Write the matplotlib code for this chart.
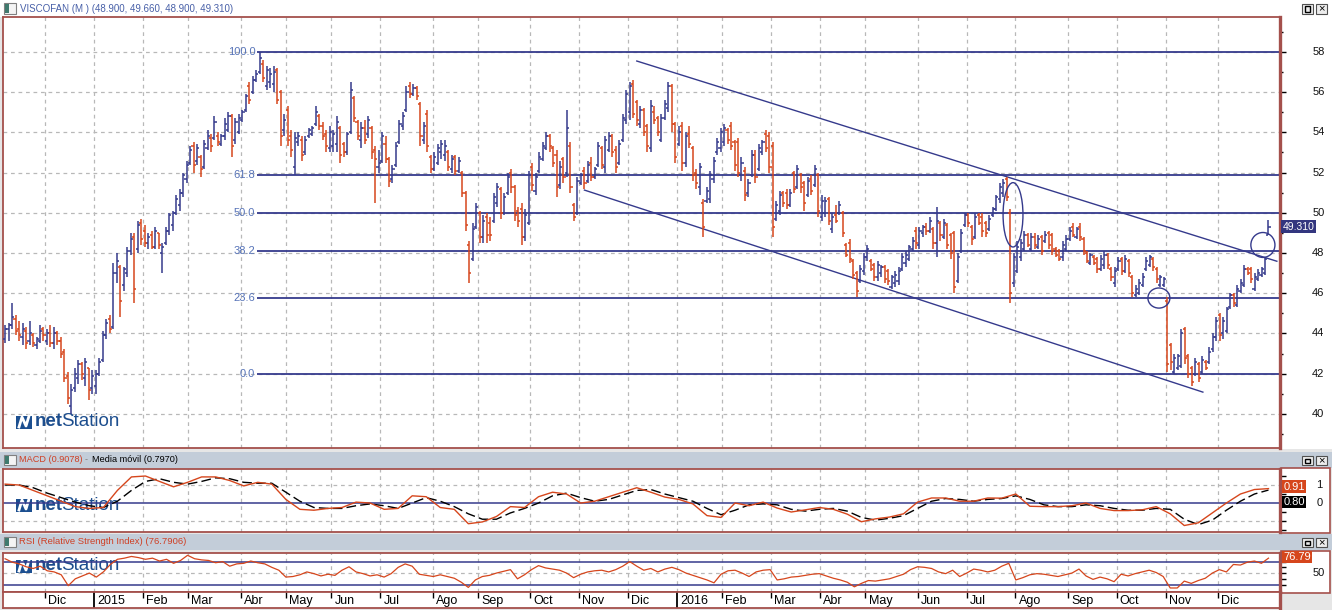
import numpy as np
import matplotlib.pyplot as plt
from matplotlib.patches import Ellipse, Rectangle
from matplotlib.lines import Line2D

plt.rcParams['font.family'] = ['Liberation Sans', 'DejaVu Sans']

# months shown on the date strip and how many bars each one holds
month_labels = [None, 'Dic', '2015', 'Feb', 'Mar', 'Abr', 'May', 'Jun', 'Jul', 'Ago', 'Sep', 'Oct', 'Nov',
                'Dic', '2016', 'Feb', 'Mar', 'Abr', 'May', 'Jun', 'Jul', 'Ago', 'Sep', 'Oct', 'Nov', 'Dic']
month_bars = [12, 14, 14, 13, 15, 13, 13, 14, 15, 13, 15, 14, 14, 14, 13, 14, 14, 13, 15, 14, 14, 15, 14, 14, 15, 15]

# OHLC, one row per month
highs = [
    44.4, 44.5, 45.5, 44.9, 44.6, 44.5, 44.3, 44.6, 44.0, 43.8, 44.4, 44.3,
    44.2, 44.4, 44.3, 44.1, 43.8, 43.2, 42.1, 41.5, 42.3, 42.7, 42.6, 42.8, 42.3, 42.2,
    42.2, 42.8, 44.1, 44.7, 44.9, 47.5, 48.0, 47.4, 47.3, 48.3, 49.0, 49.0, 49.6, 49.7,
    49.4, 49.0, 49.1, 49.3, 49.0, 48.5, 49.3, 50.0, 50.1, 50.9, 51.2, 52.0, 52.6,
    53.3, 53.5, 53.4, 52.9, 53.6, 54.1, 53.9, 54.8, 54.0, 53.9, 54.7, 55.0, 54.9, 54.7, 54.9,
    55.1, 55.9, 56.5, 56.8, 57.1, 58.0, 57.6, 57.3, 57.2, 57.3, 57.2, 56.1, 54.9,
    55.3, 54.1, 54.0, 54.0, 53.8, 53.8, 54.2, 54.3, 55.3, 54.9, 54.5, 54.1, 54.3,
    54.1, 54.8, 54.3, 53.5, 54.0, 56.5, 55.8, 54.6, 54.5, 54.6, 54.8, 54.3, 53.3, 53.1,
    54.0, 53.8, 52.8, 52.4, 53.5, 54.6, 55.0, 56.3, 56.5, 56.4, 56.3, 55.5, 54.5, 55.1, 52.9,
    53.0, 53.4, 53.6, 53.6, 53.1, 52.9, 52.9, 52.8, 52.1, 51.1, 48.6, 49.5, 50.5,
    50.1, 49.9, 50.0, 49.8, 51.0, 51.5, 51.3, 51.0, 52.0, 52.2, 51.4, 50.3, 50.5, 50.2, 52.1,
    52.5, 52.0, 53.0, 53.5, 54.0, 53.9, 53.3, 53.1, 52.6, 52.8, 55.1, 53.5, 50.5, 51.8,
    52.0, 52.3, 52.6, 52.8, 52.3, 53.5, 53.3, 53.8, 54.0, 53.9, 53.3, 53.6, 54.9, 56.1,
    56.5, 56.6, 55.6, 55.3, 55.2, 54.4, 55.6, 55.3, 54.8, 54.9, 55.6, 56.5, 56.4, 54.5,
    54.3, 54.5, 54.0, 54.3, 53.3, 52.2, 52.5, 50.7, 51.3, 52.1, 52.8, 53.7, 54.2,
    54.4, 54.2, 54.5, 53.6, 53.7, 52.8, 52.3, 51.7, 53.1, 53.1, 53.4, 53.6, 54.1, 54.0,
    53.5, 50.6, 51.1, 51.1, 51.2, 51.2, 52.1, 52.4, 52.0, 51.6, 51.8, 51.9, 52.4, 52.0,
    50.9, 50.8, 50.8, 50.0, 50.4, 50.6, 50.1, 48.5, 48.7, 47.7, 47.1, 47.4, 48.0,
    48.4, 47.7, 47.5, 47.6, 47.4, 47.4, 47.2, 46.9, 47.1, 47.3, 48.0, 48.1, 48.4, 48.8, 49.3,
    49.3, 49.4, 49.5, 49.8, 49.3, 50.3, 49.6, 49.7, 49.5, 49.0, 49.1, 48.0, 49.2, 50.0,
    50.0, 49.4, 50.0, 50.0, 50.0, 49.6, 49.9, 50.3, 50.9, 51.5, 51.7, 51.8, 50.2, 48.0,
    48.6, 48.7, 49.1, 49.0, 49.0, 49.0, 48.9, 48.9, 49.1, 49.1, 49.0, 48.3, 48.2, 48.6, 48.9,
    49.3, 49.5, 49.3, 49.5, 48.8, 48.1, 48.0, 47.9, 47.8, 47.9, 48.1, 48.0, 47.3, 47.3,
    47.8, 47.8, 47.9, 47.7, 46.9, 46.4, 46.7, 47.0, 47.8, 47.9, 47.8, 47.3, 46.9, 46.8,
    45.8, 43.5, 43.0, 43.0, 44.2, 44.3, 43.0, 42.4, 42.8, 42.6, 42.9, 42.7, 43.3, 44.0, 44.8,
    45.0, 44.8, 45.3, 46.0, 46.0, 46.4, 46.7, 47.4, 47.3, 47.3, 47.0, 47.2, 47.3, 47.8, 49.66,
]
lows = [
    43.5, 43.6, 44.2, 43.9, 43.6, 43.4, 43.2, 43.4, 43.3, 43.2, 43.5, 43.6,
    43.4, 43.3, 43.2, 43.4, 42.8, 41.6, 40.5, 40.0, 41.1, 41.5, 41.7, 41.4, 40.7, 41.0,
    41.0, 41.9, 42.6, 43.7, 44.0, 44.2, 46.5, 44.8, 46.1, 46.8, 47.9, 45.5, 48.0, 48.4,
    48.3, 48.2, 48.2, 48.2, 48.2, 47.0, 48.4, 48.9, 49.1, 49.9, 50.1, 50.8, 51.5,
    52.4, 52.0, 52.4, 51.8, 52.2, 53.1, 53.0, 53.6, 53.3, 53.3, 53.6, 54.0, 52.8, 53.4, 53.9,
    54.5, 55.0, 55.4, 55.9, 56.5, 56.9, 56.5, 56.1, 56.2, 56.0, 55.4, 53.3, 53.8,
    53.3, 52.8, 51.9, 53.3, 52.6, 52.9, 53.7, 53.8, 54.3, 54.1, 53.6, 53.0, 53.0,
    53.0, 53.0, 52.5, 52.8, 52.9, 53.9, 54.5, 53.6, 53.2, 53.4, 53.7, 52.7, 50.5, 52.0,
    52.5, 52.5, 51.3, 51.5, 52.3, 53.4, 54.1, 55.0, 55.7, 55.8, 55.6, 53.3, 53.4, 53.0, 52.0,
    52.1, 52.4, 52.7, 52.6, 52.1, 52.0, 51.9, 52.0, 50.8, 49.1, 46.5, 47.6, 49.2,
    48.5, 48.5, 48.5, 48.6, 49.5, 50.3, 49.7, 49.9, 50.9, 51.0, 49.6, 49.3, 48.4, 48.6, 49.4,
    51.1, 50.9, 52.0, 52.6, 53.1, 53.0, 52.3, 50.8, 51.2, 51.5, 51.8, 51.0, 49.6, 49.9,
    51.4, 51.2, 51.5, 51.6, 51.7, 52.3, 52.2, 52.0, 53.0, 52.8, 52.0, 52.4, 53.5, 54.4,
    54.6, 54.7, 54.3, 54.2, 53.8, 53.0, 53.0, 54.4, 53.8, 53.5, 54.6, 55.0, 54.0, 52.5,
    53.3, 52.1, 52.3, 53.2, 51.6, 51.2, 50.9, 48.8, 50.5, 50.5, 51.5, 52.9, 53.0,
    53.3, 53.4, 53.1, 52.1, 51.8, 51.6, 50.6, 50.8, 51.8, 51.5, 52.1, 52.9, 53.0, 52.0,
    48.8, 49.6, 49.9, 50.3, 50.2, 50.3, 51.0, 51.2, 51.0, 50.1, 50.8, 50.9, 51.3, 49.8,
    49.6, 49.8, 49.4, 49.0, 49.5, 49.9, 48.8, 47.8, 47.5, 46.7, 45.8, 46.5, 46.9,
    47.6, 47.1, 46.6, 46.6, 46.8, 46.5, 46.4, 46.2, 46.3, 46.4, 47.1, 47.3, 47.6, 48.1, 48.2,
    48.2, 48.8, 48.9, 49.0, 48.2, 47.8, 48.6, 48.7, 48.2, 47.7, 46.0, 46.5, 48.0, 49.3,
    49.3, 48.4, 48.7, 49.4, 48.8, 48.8, 49.1, 49.8, 50.1, 50.5, 50.8, 50.6, 45.5, 46.3,
    47.0, 47.6, 48.1, 48.3, 48.1, 48.2, 48.2, 47.9, 48.5, 48.2, 47.9, 47.8, 47.6, 47.6, 48.1,
    48.6, 48.8, 48.7, 48.6, 47.9, 47.5, 47.4, 47.4, 47.0, 47.1, 47.2, 47.2, 46.6, 46.3,
    47.1, 46.9, 47.0, 46.8, 45.8, 45.8, 45.9, 46.3, 47.1, 47.3, 47.1, 46.5, 46.3, 46.3,
    42.1, 42.2, 42.0, 42.2, 42.3, 42.5, 41.8, 41.4, 41.9, 41.6, 42.0, 42.2, 42.5, 43.1, 43.6,
    43.6, 43.7, 44.0, 45.2, 45.3, 45.3, 46.0, 46.3, 46.9, 46.5, 46.1, 46.6, 46.8, 46.9, 48.9,
]
opens = [
    43.7, 44.2, 44.4, 44.7, 44.2, 43.8, 44.1, 43.6, 43.9, 43.4, 43.6, 44.2,
    43.6, 44.0, 43.5, 44.0, 43.6, 43.1, 41.9, 40.4, 41.3, 41.8, 42.5, 41.8, 42.3, 41.3,
    41.4, 42.0, 42.7, 43.9, 44.7, 44.3, 47.0, 47.3, 46.4, 47.0, 48.1, 48.8, 48.2, 49.5,
    49.1, 48.5, 48.9, 48.3, 49.0, 48.0, 48.5, 49.1, 49.4, 50.0, 50.4, 51.0, 51.7,
    52.5, 53.3, 52.6, 52.8, 52.3, 53.2, 53.7, 53.7, 53.8, 53.4, 53.8, 54.1, 54.8, 53.6, 54.0,
    54.6, 55.1, 56.3, 56.0, 56.6, 57.0, 57.4, 56.3, 56.5, 56.4, 57.1, 56.0, 54.1,
    55.1, 53.8, 52.3, 53.5, 53.6, 53.0, 53.8, 53.9, 54.4, 54.8, 54.3, 53.9, 53.2,
    53.3, 53.4, 54.2, 53.4, 53.0, 54.0, 55.7, 54.5, 53.6, 54.2, 53.9, 54.2, 53.1, 52.3,
    52.6, 53.4, 52.7, 51.7, 52.4, 53.5, 54.3, 55.1, 56.3, 55.9, 56.2, 55.4, 53.6, 54.9, 52.8,
    52.2, 52.5, 53.0, 52.9, 53.0, 52.2, 52.8, 52.1, 52.0, 51.0, 48.4, 47.7, 49.3,
    50.0, 48.8, 49.8, 49.5, 49.6, 50.5, 51.2, 50.0, 51.0, 52.0, 51.3, 50.1, 50.2, 48.8, 49.5,
    52.3, 51.1, 52.1, 52.7, 53.2, 53.8, 53.2, 52.9, 51.4, 52.7, 52.0, 53.3, 50.4, 50.0,
    51.5, 52.1, 51.6, 52.5, 51.8, 52.4, 53.2, 52.3, 53.1, 53.8, 53.1, 52.5, 53.6, 54.6,
    55.0, 56.4, 55.5, 54.4, 55.1, 54.3, 53.2, 55.0, 54.7, 53.6, 54.7, 55.2, 56.3, 54.4,
    53.4, 54.3, 52.5, 53.9, 53.2, 52.0, 51.3, 50.5, 50.6, 50.7, 51.7, 53.0, 53.2,
    53.5, 54.1, 54.3, 53.5, 53.5, 51.9, 52.1, 51.0, 51.9, 52.9, 52.2, 53.0, 53.9, 53.8,
    53.3, 49.7, 50.1, 51.0, 51.0, 50.4, 52.0, 51.3, 51.9, 51.5, 50.9, 51.7, 51.4, 51.9,
    49.8, 50.0, 50.7, 49.2, 49.9, 50.0, 50.0, 48.4, 48.5, 47.6, 47.0, 46.6, 47.1,
    47.8, 47.6, 47.4, 46.8, 47.0, 47.3, 47.1, 46.3, 46.5, 46.6, 47.2, 47.5, 47.7, 48.2, 49.1,
    48.4, 49.0, 49.3, 49.1, 49.2, 48.5, 49.5, 48.8, 49.4, 48.9, 49.0, 46.6, 48.1, 49.4,
    49.9, 49.3, 48.8, 49.9, 49.8, 49.5, 49.2, 49.9, 50.2, 50.7, 51.0, 51.7, 50.0, 46.5,
    47.1, 47.8, 48.2, 48.9, 48.2, 48.8, 48.3, 48.8, 48.6, 49.0, 48.9, 48.2, 48.1, 47.8, 48.2,
    48.7, 49.3, 48.8, 49.3, 48.7, 48.0, 47.5, 47.8, 47.7, 47.2, 47.4, 47.9, 47.2, 46.5,
    47.2, 47.7, 47.1, 47.6, 46.8, 45.9, 46.0, 46.4, 47.2, 47.4, 47.7, 47.2, 46.4, 46.4,
    45.6, 43.4, 42.1, 42.3, 42.4, 44.2, 42.9, 42.3, 42.0, 42.5, 42.1, 42.6, 42.6, 43.2, 43.8,
    44.9, 44.0, 44.1, 45.3, 45.9, 45.4, 46.1, 46.4, 47.2, 47.2, 46.2, 46.7, 46.9, 47.0, 48.9,
]
closes = [
    44.2, 44.4, 44.8, 44.1, 43.9, 44.2, 43.5, 44.0, 43.5, 43.7, 44.1, 43.9,
    44.0, 43.5, 44.0, 43.6, 43.0, 41.8, 40.8, 41.2, 42.0, 42.5, 42.0, 42.6, 41.2, 41.9,
    42.0, 42.6, 43.9, 44.5, 44.2, 47.0, 47.6, 45.6, 47.2, 48.1, 48.7, 46.2, 49.4, 48.7,
    48.5, 48.8, 48.3, 49.1, 48.4, 48.3, 49.1, 49.9, 50.0, 50.7, 51.0, 51.9, 52.4,
    53.1, 52.4, 53.2, 52.2, 53.4, 53.8, 53.3, 54.5, 53.5, 53.8, 54.4, 54.8, 53.3, 54.5, 54.7,
    55.0, 55.8, 55.6, 56.6, 56.9, 57.7, 56.7, 57.1, 56.9, 57.0, 55.6, 53.8, 54.6,
    53.6, 53.1, 53.7, 53.8, 52.9, 53.6, 54.1, 54.2, 55.0, 54.3, 53.8, 53.3, 54.0,
    53.9, 54.5, 52.9, 53.0, 53.9, 56.1, 54.7, 53.8, 54.2, 53.6, 54.6, 53.0, 52.7, 52.5,
    53.8, 52.7, 51.6, 52.2, 53.3, 54.4, 54.8, 56.0, 55.9, 56.2, 55.8, 53.8, 54.3, 53.3, 52.2,
    52.8, 53.2, 53.4, 53.3, 52.3, 52.7, 52.1, 52.6, 51.0, 49.4, 47.0, 49.2, 50.3,
    48.8, 49.6, 48.9, 48.9, 50.8, 51.3, 50.0, 50.8, 51.8, 51.3, 49.9, 49.6, 48.8, 49.9, 51.9,
    51.4, 51.8, 52.8, 53.3, 53.8, 53.3, 52.5, 51.3, 52.3, 51.8, 54.2, 51.3, 49.8, 51.6,
    51.9, 51.5, 52.4, 51.8, 52.2, 53.3, 52.4, 53.6, 53.8, 53.0, 52.3, 53.4, 54.7, 55.9,
    56.3, 54.9, 54.6, 55.1, 54.0, 53.3, 55.3, 54.6, 54.0, 54.7, 55.4, 56.3, 54.4, 52.8,
    54.0, 52.5, 53.8, 53.4, 51.9, 51.5, 52.3, 49.3, 51.1, 51.9, 52.6, 53.5, 54.0,
    54.2, 53.6, 53.3, 52.4, 52.0, 52.5, 50.9, 51.5, 52.9, 51.8, 53.2, 53.5, 53.2, 52.3,
    49.3, 50.4, 50.9, 50.5, 50.4, 51.0, 51.2, 52.2, 51.3, 50.5, 51.6, 51.1, 52.2, 50.1,
    50.6, 50.6, 49.6, 49.8, 49.6, 50.4, 49.0, 47.9, 47.7, 46.9, 46.1, 47.2, 47.8,
    48.2, 47.2, 46.8, 47.4, 47.3, 46.7, 46.6, 46.8, 46.9, 47.1, 47.8, 47.9, 48.3, 48.6, 48.5,
    49.1, 49.3, 49.1, 49.6, 48.5, 49.6, 48.9, 49.5, 48.4, 48.0, 46.3, 47.8, 49.0, 49.9,
    49.5, 48.7, 49.8, 49.5, 49.1, 49.0, 49.7, 50.2, 50.8, 51.3, 51.5, 50.8, 46.0, 47.8,
    48.3, 48.5, 48.9, 48.4, 48.8, 48.4, 48.7, 48.1, 48.9, 48.4, 48.1, 47.9, 47.7, 48.4, 48.7,
    49.1, 48.9, 49.2, 48.8, 48.1, 47.6, 47.9, 47.5, 47.2, 47.7, 47.9, 47.4, 46.8, 47.1,
    47.6, 47.1, 47.7, 47.0, 46.0, 46.2, 46.5, 46.8, 47.6, 47.8, 47.3, 46.7, 46.8, 46.7,
    42.5, 42.6, 42.8, 42.9, 44.0, 42.8, 42.0, 41.6, 42.6, 41.8, 42.7, 42.3, 43.1, 43.8, 44.6,
    43.9, 44.6, 45.2, 45.9, 45.5, 46.2, 46.5, 47.2, 47.0, 46.7, 46.8, 47.0, 47.2, 47.7, 49.31,
]

# MACD line and its moving average, evenly spaced over the bars
macd = [1.05, 1.0, 0.7, 0.4, 0.1, -0.2, -0.3, -0.25, 0.7, 1.45,
        1.5, 1.2, 0.9, 1.15, 1.45, 1.45, 1.25, 0.95, 1.15, 1.05,
        0.2, -0.35, -0.4, -0.3, -0.25, 0.05, 0.0, -0.35, -0.3, 0.4,
        0.35, -0.25, -0.35, -1.15, -1.05, -0.75, -0.2, -0.25, 0.35, 0.6,
        0.5, 0.0, 0.1, 0.35, 0.6, 0.85, 0.6, 0.33, 0.2, -0.05,
        -0.7, -0.8, 0.0, -0.15, 0.05, -0.28, -0.5, -0.38, -0.25, -0.35,
        -0.62, -1.04, -0.88, -0.78, -0.6, 0.05, 0.28, 0.28, 0.1, 0.1,
        0.28, 0.27, 0.5, -0.18, -0.2, -0.2, -0.15, 0.0, -0.3, -0.42,
        -0.42, -0.38, -0.2, -0.6, -1.25, -1.1, -0.55, 0.0, 0.5, 0.75,
        0.8]
signal = [1.0, 1.0, 0.85, 0.55, 0.3, 0.05, -0.15, -0.25, 0.1, 0.7,
          1.2, 1.35, 1.15, 1.05, 1.2, 1.4, 1.35, 1.15, 1.1, 1.1,
          0.6, 0.1, -0.25, -0.3, -0.3, -0.15, -0.05, -0.15, -0.3, 0.0,
          0.3, 0.1, -0.2, -0.6, -0.9, -0.9, -0.55, -0.3, 0.0, 0.4,
          0.55, 0.3, 0.1, 0.2, 0.45, 0.7, 0.75, 0.5, 0.3, 0.1,
          -0.3, -0.65, -0.4, -0.1, -0.05, -0.1, -0.35, -0.45, -0.35, -0.3,
          -0.45, -0.8, -0.95, -0.85, -0.7, -0.3, 0.1, 0.25, 0.2, 0.1,
          0.2, 0.25, 0.4, 0.2, -0.1, -0.2, -0.2, -0.1, -0.15, -0.3,
          -0.4, -0.4, -0.3, -0.35, -0.9, -1.2, -0.95, -0.4, 0.1, 0.5,
          0.72]
rsi = [75, 69, 66, 61, 58, 62, 54, 52, 47, 28,
       40, 45, 50, 43, 52, 65, 74, 76, 79, 77,
       74, 76, 71, 74, 67, 72, 81, 75, 73, 72,
       68, 70, 62, 66, 67, 71, 68, 66, 60, 55,
       43, 44, 47, 52, 49, 45, 48, 46, 55, 61,
       52, 49, 45, 47, 43, 49, 60, 66, 62, 48,
       46, 44, 47, 44, 41, 34, 25, 38, 44, 46,
       50, 53, 56, 40, 47, 56, 63, 59, 57, 55,
       50, 42, 48, 52, 54, 55, 52, 56, 62, 70,
       62, 55, 58, 52, 57, 60, 56, 50, 46, 42,
       38, 33, 48, 54, 55, 50, 44, 52, 55, 56,
       38, 40, 43, 44, 46, 48, 49, 45, 41, 38,
       34, 26, 32, 37, 36, 38, 40, 44, 48, 56,
       61, 60, 58, 52, 49, 55, 44, 50, 57, 55,
       52, 55, 62, 67, 38, 42, 47, 49, 48, 46,
       44, 47, 50, 57, 45, 39, 43, 40, 35, 48,
       45, 49, 52, 55, 51, 44, 24, 24, 36, 32,
       37, 41, 50, 56, 52, 65, 64, 69, 71, 67,
       76]
macd_last, signal_last, rsi_last = 0.9078, 0.7970, 76.7906

# Fibonacci retracement and the drawn channel (bar index, price)
fib_low, fib_high = 42.0, 58.0
fib_levels = [0.0, 23.6, 38.2, 50.0, 61.8, 100.0]
chan_upper_x, chan_upper_y = [181.0, 364.4], [57.55, 47.59]
chan_lower_x, chan_lower_y = [166.0, 343.2], [51.13, 41.08]
marks_x = [288.8, 330.6, 360.4]
marks_y = [49.9, 45.76, 48.4]
marks_w = [5.7, 6.3, 6.9]
marks_h = [3.2, 1.0, 1.24]

NAVY = '#353a8c'
ORANGE = '#d6461c'
MAROON = '#a4504c'
GRID = '#b8b8b8'
BAR_BG = '#c3cdd9'

W, H = 1332, 610
n = sum(month_bars)
assert len(highs) == len(lows) == len(opens) == len(closes) == n

fig = plt.figure(figsize=(W / 100, H / 100), dpi=100, facecolor='#e6e6e6')


def box(x0, y0, x1, y1):
    return [x0 / W, 1 - y1 / H, (x1 - x0) / W, (y1 - y0) / H]


def rect(x0, y0, x1, y1, fc, ec='none', lw=0, z=-1):
    fig.add_artist(Rectangle((x0 / W, 1 - y1 / H), (x1 - x0) / W, (y1 - y0) / H,
                             transform=fig.transFigure, fc=fc, ec=ec, lw=lw, zorder=z))


def title_bar(y0, y1, fc):
    rect(0, y0, W, y1, fc)
    # small window icon
    rect(4, y0 + 3, 16, y1 - 3, '#f4f4f4', '#808080', 0.8, z=1)
    rect(5, y0 + 4, 9, y1 - 4, '#3f7a6e', z=1.1)
    # buttons
    for bx in (1302, 1316):
        rect(bx, y0 + 4, bx + 11, y1 - 3, '#ececec', '#505050', 0.8, z=1)
    rect(1305, y0 + 6.5, 1310, y1 - 5.5, 'none', 'black', 1.0, z=1.2)
    fig.text(1321.5 / W, 1 - (y0 + y1) / 2 / H, '×', fontsize=8, ha='center', va='center',
             color='black', zorder=2)


def logo(ax, x, yc):
    t = fig.transFigure
    ax.add_patch(Rectangle((x / W, 1 - (yc + 7) / H), 16 / W, 13 / H, transform=t,
                           fc='#1c4f90', ec='none', zorder=0.6))
    ax.add_line(Line2D([(x + 3) / W, (x + 6) / W, (x + 10) / W, (x + 13) / W],
                       [1 - (yc + 5) / H, 1 - (yc - 5) / H, 1 - (yc + 4) / H, 1 - (yc - 6) / H],
                       transform=t, color='white', lw=2.0, zorder=0.7))
    ax.text((x + 19) / W, 1 - yc / H, 'net', transform=t, fontsize=13.5, fontweight='bold',
            color='#1d4e8e', va='center', ha='left', zorder=0.6)
    ax.text((x + 45) / W, 1 - yc / H, 'Station', transform=t, fontsize=13.5,
            color='#1d4e8e', va='center', ha='left', zorder=0.6)


# panel frames
rect(0, 0, W, 17, 'white')
title_bar(0, 17, 'white')
fig.text(20 / W, 1 - 8.5 / H,
         f'VISCOFAN (M ) ({opens[-1]:.3f}, {highs[-1]:.3f}, {lows[-1]:.3f}, {closes[-1]:.3f})',
         fontsize=7, color='#4860a8', va='center')
rect(1281, 17, W, 449, 'white')
title_bar(452, 468, BAR_BG)
fig.text(19 / W, 1 - 460 / H, f'MACD ({macd_last:.4f})', fontsize=6.6, color='#cf3f24', va='center')
fig.text(85 / W, 1 - 460 / H, '-', fontsize=6.6, color='#808080', va='center')
fig.text(92 / W, 1 - 460 / H, f'Media móvil ({signal_last:.4f})', fontsize=6.6, color='black', va='center')
rect(1281, 468, 1330, 533, 'white', MAROON, 1.2)
title_bar(534, 550, BAR_BG)
fig.text(19 / W, 1 - 542 / H, f'RSI (Relative Strength Index) ({rsi_last:.4f})', fontsize=6.8,
         color='#cf3f24', va='center')
rect(1281, 551, 1330, 593, 'white', MAROON, 1.2)

ax = fig.add_axes(box(3, 17, 1280, 448))
ax_m = fig.add_axes(box(3, 469, 1280, 532), sharex=ax)
ax_r = fig.add_axes(box(3, 553, 1280, 592), sharex=ax)
ax_d = fig.add_axes(box(3, 592, 1280, 608), sharex=ax)

x = np.arange(n)
bounds = np.cumsum(month_bars)[:-1] - 0.5

for a in (ax, ax_m, ax_r, ax_d):
    a.set_facecolor('white')
    for s in a.spines.values():
        s.set_color(MAROON)
        s.set_linewidth(1.3)
    a.spines['right'].set_linewidth(2.4)
    a.tick_params(axis='x', bottom=False, labelbottom=False)
for a in (ax, ax_m, ax_r):
    for b in bounds:
        a.axvline(b, color=GRID, lw=0.9, ls=(0, (3, 3)), zorder=0.5)
    a.yaxis.tick_right()
    a.tick_params(axis='y', which='both', direction='out', color='black', width=1,
                  labelright=False, labelleft=False)
    a.tick_params(axis='y', which='major', length=4)
    a.tick_params(axis='y', which='minor', length=2.5)
ax.set_xlim(-0.6, 365.3)

# ---- price panel ----
ax.set_ylim(38.3, 59.74)
ticks = np.arange(40, 59, 2)
ax.set_yticks(ticks)
ax.set_yticks(np.arange(39, 60, 1), minor=True)
for v in ticks:
    ax.axhline(v, color=GRID, lw=0.9, ls=(0, (3, 3)), zorder=0.5)
    ax.text(1.030, v, f'{v:d}', transform=ax.get_yaxis_transform(), ha='center', va='center',
            fontsize=8, color='#111111')

o, h, l, c = map(np.array, (opens, highs, lows, closes))
col = np.where(c >= o, NAVY, ORANGE)
ax.vlines(x, l, h, colors=col, lw=1.1, zorder=3)
ax.hlines(o, x - 0.6, x, colors=col, lw=1.1, zorder=3)
ax.hlines(c, x, x + 0.6, colors=col, lw=1.1, zorder=3)

peak = int(np.argmax(h))
for lev in fib_levels:
    y = fib_low + (fib_high - fib_low) * lev / 100
    ax.hlines(y, peak - 0.8, 365.3, color=NAVY, lw=1.3, zorder=2)
    ax.text(peak - 1.3, y, f'{lev:.1f}', ha='right', va='center', fontsize=8, color='#5673b8', zorder=2)

ax.plot(chan_upper_x, chan_upper_y, color=NAVY, lw=1.0, zorder=2)
ax.plot(chan_lower_x, chan_lower_y, color=NAVY, lw=1.0, zorder=2)
for cx, cy, ew, eh in zip(marks_x, marks_y, marks_w, marks_h):
    ax.add_patch(Ellipse((cx, cy), ew, eh, fill=False, ec=NAVY, lw=1.0, zorder=4))

ax.text(1.0018, c[-1], f'{c[-1]:.3f}', transform=ax.get_yaxis_transform(), ha='left',
        va='center', fontsize=7.5, color='white', zorder=5,
        bbox=dict(boxstyle='square,pad=0.15', fc='#33367f', ec='none'))
logo(ax, 16, 422)

# ---- MACD panel ----
ax_m.set_ylim(-1.61, 1.89)
ax_m.set_yticks([-1.5, -1, -0.5, 0, 0.5, 1, 1.5])
for v in (-1, 1):
    ax_m.axhline(v, color=GRID, lw=0.9, ls=(0, (3, 3)), zorder=0.5)
ax_m.axhline(0, color=NAVY, lw=1.1, zorder=1)
xm = np.linspace(0, n - 1, len(macd))
ax_m.plot(xm, signal, color='black', lw=1.0, ls=(0, (7, 3)), zorder=2)
ax_m.plot(xm, macd, color=ORANGE, lw=1.0, zorder=3)
for v in (0, 1):
    ax_m.text(1.031, v, f'{v}', transform=ax_m.get_yaxis_transform(), ha='center', va='center',
              fontsize=8, color='#111111')
ax_m.text(1.0025, macd[-1] + 0.1, f'{macd_last:.2f}', transform=ax_m.get_yaxis_transform(),
          ha='left', va='center', fontsize=8, color='white',
          bbox=dict(boxstyle='square,pad=0.12', fc=ORANGE, ec='none'))
ax_m.text(1.0025, 0.05, f'{signal_last:.2f}', transform=ax_m.get_yaxis_transform(),
          ha='left', va='center', fontsize=8, color='white',
          bbox=dict(boxstyle='square,pad=0.12', fc='black', ec='none'))
logo(ax_m, 16, 505)

# ---- RSI panel ----
ax_r.set_ylim(17, 85)
ax_r.set_yticks([30, 40, 50, 60, 70])
ax_r.axhline(50, color=GRID, lw=0.9, ls=(0, (3, 3)), zorder=0.5)
for v in (30, 70):
    ax_r.axhline(v, color=NAVY, lw=1.1, zorder=1)
xr = np.linspace(0, n - 1, len(rsi))
ax_r.plot(xr, rsi, color=ORANGE, lw=0.9, zorder=3)
ax_r.text(1.030, 50, '50', transform=ax_r.get_yaxis_transform(), ha='center', va='center',
          fontsize=8, color='#111111')
ax_r.text(1.0025, rsi_last + 1, f'{rsi_last:.2f}', transform=ax_r.get_yaxis_transform(),
          ha='left', va='center', fontsize=8, color='white',
          bbox=dict(boxstyle='square,pad=0.12', fc=ORANGE, ec='none'))
logo(ax_r, 16, 566)

# ---- date strip ----
ax_d.set_ylim(0, 1)
ax_d.set_yticks([])
for b, lab in zip(bounds, month_labels[1:]):
    if lab.isdigit():
        ax_d.vlines(b, 0, 1, color='black', lw=1.3)
    else:
        ax_d.vlines(b, 0.62, 1, color='black', lw=1.0)
    ax_d.text(b + 0.9, 0.42, lab, ha='left', va='center', fontsize=9, color='black')

fig.savefig('out.png', dpi=100, facecolor=fig.get_facecolor())
